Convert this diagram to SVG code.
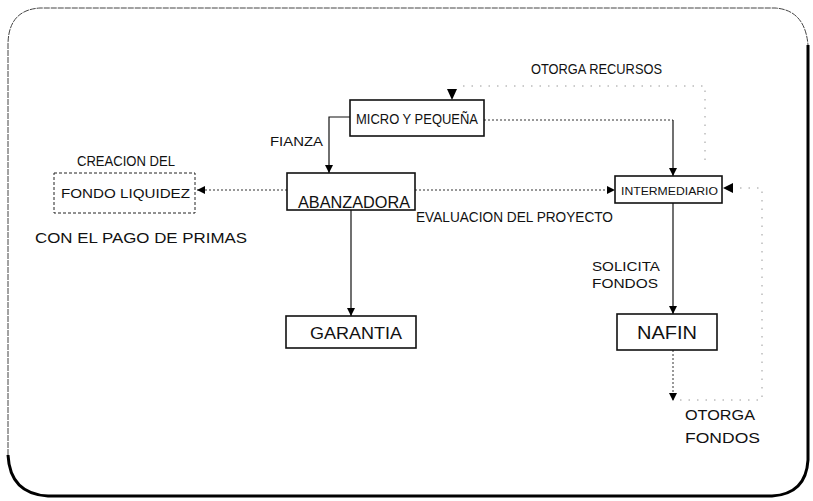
<svg xmlns="http://www.w3.org/2000/svg" width="813" height="501" viewBox="0 0 813 501">
<style>
.box{fill:none;stroke:#111;stroke-width:1.6}
.dbox{fill:none;stroke:#222;stroke-width:1;stroke-dasharray:3 2}
.solid{fill:none;stroke:#111;stroke-width:1.2}
.dot{fill:none;stroke:#333;stroke-width:1;stroke-dasharray:2 2}
.faint{fill:none;stroke:#999;stroke-width:1;stroke-dasharray:1.5 7}
.n{font-family:"Liberation Sans Narrow","Liberation Sans",Arial,sans-serif;fill:#111}
.w{font-family:"Liberation Sans",Arial,sans-serif;fill:#111}
</style>
<defs>
<marker id="ah" viewBox="0 0 10 10" refX="10" refY="5" markerWidth="8" markerHeight="8" markerUnits="userSpaceOnUse" orient="auto">
<path d="M0,0 L10,5 L0,10 Z" fill="#000"/>
</marker>
</defs>
<g id="frame">
<path d="M8,455 L8,45 Q8,10 40,8 L775,8 Q805,10 808,45" fill="none" stroke="#444" stroke-width="1" stroke-dasharray="6 1"/>
<path d="M808,45 L808,460 Q806,494 772,496 L48,496 Q10,494 8,455" fill="none" stroke="#000" stroke-width="3"/>
</g>
<g id="connectors">
<path class="solid" d="M350,117 L329,117 L329,173" marker-end="url(#ah)"/>
<path class="dot" d="M287,190 L197,190" marker-end="url(#ah)"/>
<path class="dot" d="M415,190 L615,190" marker-end="url(#ah)"/>
<path class="dot" d="M484,120 L673,120"/>
<path class="solid" d="M673,120 L673,176" marker-end="url(#ah)"/>
<path class="solid" d="M351,210 L351,316" marker-end="url(#ah)"/>
<path class="solid" d="M673,203 L673,314" marker-end="url(#ah)"/>
<path class="dot" d="M673,350 L673,401" marker-end="url(#ah)"/>
<path class="faint" d="M680,400 L762,400 L762,188 L736,188"/>
<path d="M733,183 L723,188 L733,193 Z" fill="#000"/>
<path class="faint" d="M705,160 L705,86 L460,86"/>
<path d="M447,89 L457,89 L452,100 Z" fill="#000"/>
</g>
<g id="micro">
<rect class="box" x="350" y="100" width="134" height="36"/>
<text class="n" x="356" y="124" font-size="14" textLength="122" lengthAdjust="spacingAndGlyphs">MICRO Y PEQUEÑA</text>
</g>
<g id="abanzadora">
<rect class="box" x="287" y="173" width="128" height="37"/>
<text class="n" x="298" y="208" font-size="17" textLength="112" lengthAdjust="spacingAndGlyphs">ABANZADORA</text>
</g>
<g id="fondo">
<rect class="dbox" x="54" y="173" width="141" height="40"/>
<text class="w" x="61" y="198" font-size="13.5" textLength="129" lengthAdjust="spacingAndGlyphs">FONDO LIQUIDEZ</text>
</g>
<g id="intermediario">
<rect class="box" x="615" y="176" width="107" height="27"/>
<text class="w" x="621" y="195" font-size="11" textLength="97" lengthAdjust="spacingAndGlyphs">INTERMEDIARIO</text>
</g>
<g id="garantia">
<rect class="box" x="286" y="316" width="130" height="32"/>
<text class="n" x="310" y="339" font-size="17" textLength="92" lengthAdjust="spacingAndGlyphs">GARANTIA</text>
</g>
<g id="nafin">
<rect class="box" x="617" y="314" width="100" height="36"/>
<text class="w" x="637" y="339" font-size="18" textLength="60" lengthAdjust="spacingAndGlyphs">NAFIN</text>
</g>
<g id="labels">
<text class="n" x="531" y="74" font-size="15" textLength="131" lengthAdjust="spacingAndGlyphs">OTORGA RECURSOS</text>
<text class="n" x="270" y="146" font-size="13" textLength="53" lengthAdjust="spacingAndGlyphs">FIANZA</text>
<text class="n" x="77" y="166" font-size="14" textLength="98" lengthAdjust="spacingAndGlyphs">CREACION DEL</text>
<text class="w" x="35" y="243" font-size="15" textLength="212" lengthAdjust="spacingAndGlyphs">CON EL PAGO DE PRIMAS</text>
<text class="n" x="416" y="222" font-size="15" textLength="197" lengthAdjust="spacingAndGlyphs">EVALUACION DEL PROYECTO</text>
<text class="w" x="592" y="271" font-size="13" textLength="68" lengthAdjust="spacingAndGlyphs">SOLICITA</text>
<text class="w" x="592" y="288" font-size="13" textLength="66" lengthAdjust="spacingAndGlyphs">FONDOS</text>
<text class="w" x="685" y="420" font-size="14" textLength="70" lengthAdjust="spacingAndGlyphs">OTORGA</text>
<text class="w" x="685" y="443" font-size="14" textLength="75" lengthAdjust="spacingAndGlyphs">FONDOS</text>
</g>
</svg>
